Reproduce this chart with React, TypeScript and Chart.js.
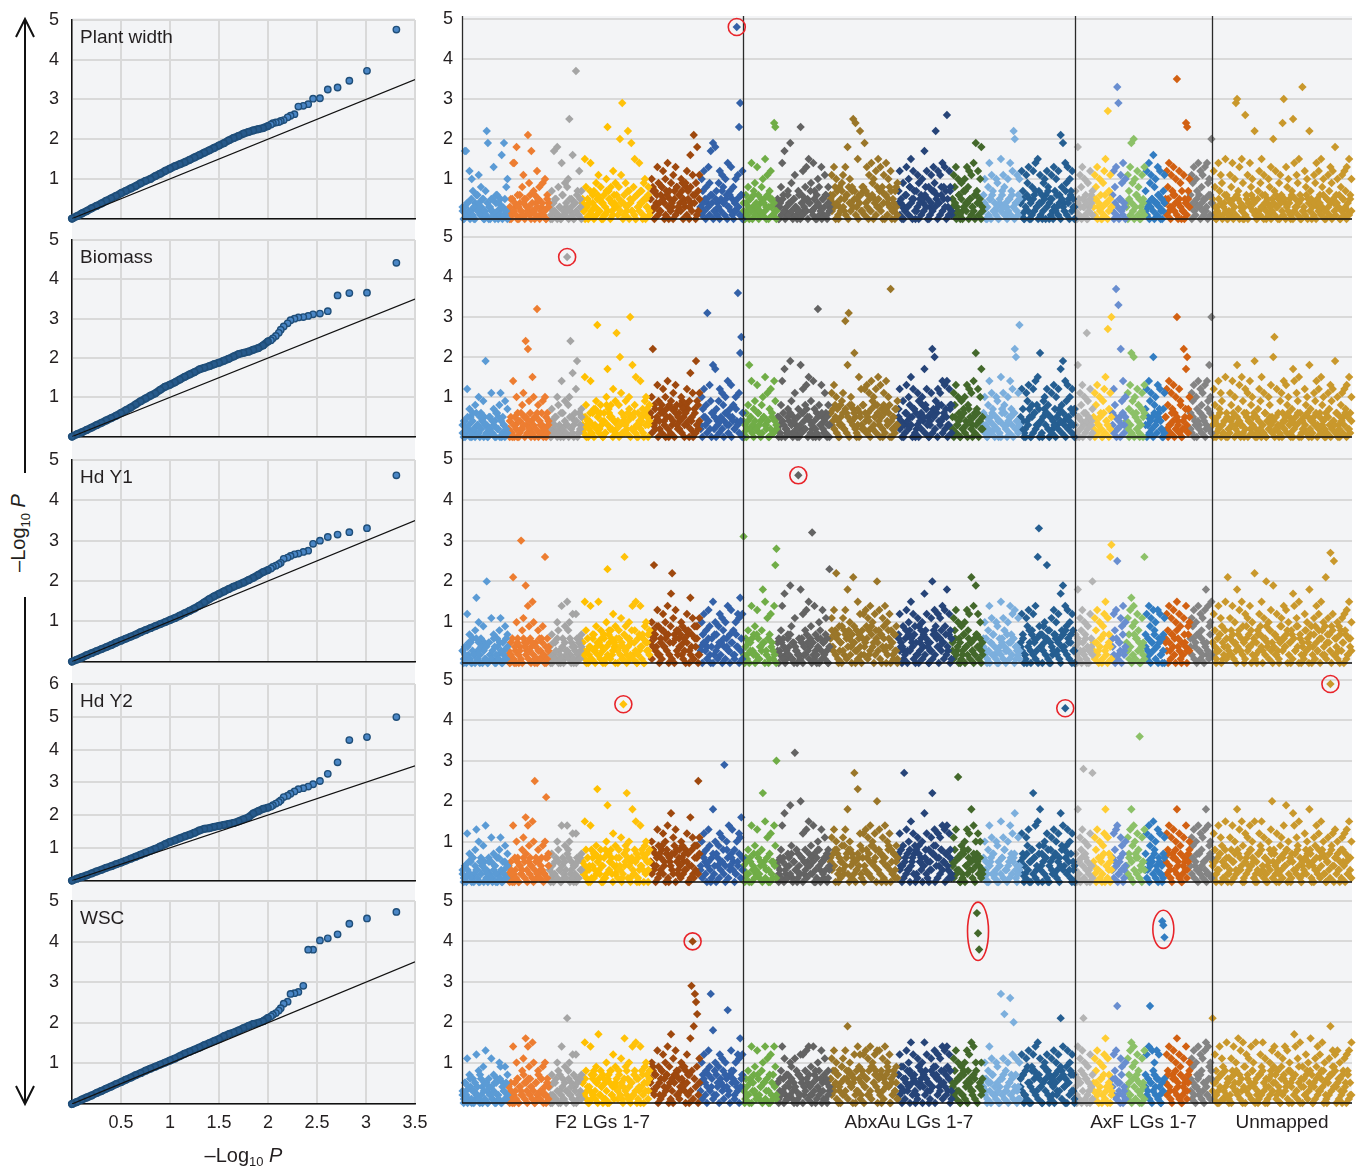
import { useEffect, useRef } from "react";
import { Chart, registerables } from "chart.js";

Chart.register(...registerables);

const FONT = '"Liberation Sans", Arial, Helvetica, sans-serif';
const INK = "#231f20";
Chart.defaults.font.family = FONT;
Chart.defaults.color = INK;

// ---------------- QQ plots ----------------
const traitNames = ["Plant width", "Biomass", "Hd Y1", "Hd Y2", "WSC"];
const qqYMax = [5, 5, 5, 6, 5];

const qqExpected = [
  3.31, 3.01, 2.83, 2.71, 2.61, 2.53, 2.46, 2.41, 2.36, 2.31, 2.27, 2.23, 2.2, 2.16, 2.13, 2.11, 2.08, 2.05, 2.03, 2.0,
  1.95, 1.9, 1.85, 1.8, 1.75, 1.7, 1.65, 1.6, 1.55, 1.5, 1.45, 1.4, 1.35, 1.3, 1.25, 1.2, 1.15, 1.1, 1.05, 1.0,
  0.95, 0.9, 0.85, 0.8, 0.75, 0.7, 0.65, 0.6, 0.55, 0.5, 0.45, 0.4, 0.35, 0.3, 0.25, 0.2, 0.15, 0.1, 0.05, 0.0,
];
const qqPlantWidth = [
  4.76, 3.72, 3.47, 3.3, 3.25, 3.03, 3.02, 2.88, 2.84, 2.82, 2.63, 2.59, 2.55, 2.48, 2.46, 2.43, 2.42, 2.4, 2.37, 2.33,
  2.28, 2.25, 2.22, 2.18, 2.14, 2.08, 2.03, 1.97, 1.9, 1.84, 1.78, 1.72, 1.66, 1.6, 1.54, 1.48, 1.42, 1.37, 1.32, 1.26,
  1.2, 1.13, 1.07, 1.0, 0.95, 0.89, 0.82, 0.76, 0.7, 0.64, 0.57, 0.51, 0.45, 0.38, 0.32, 0.26, 0.19, 0.13, 0.06, 0.0,
];
const qqBiomass = [
  4.42, 3.66, 3.65, 3.59, 3.19, 3.13, 3.11, 3.07, 3.04, 3.03, 3.0, 2.96, 2.88, 2.8, 2.72, 2.64, 2.56, 2.5, 2.45, 2.42,
  2.32, 2.25, 2.21, 2.16, 2.13, 2.1, 2.04, 1.98, 1.93, 1.88, 1.84, 1.79, 1.75, 1.71, 1.64, 1.58, 1.52, 1.45, 1.38, 1.32,
  1.27, 1.19, 1.1, 1.04, 0.97, 0.9, 0.82, 0.74, 0.67, 0.6, 0.53, 0.47, 0.41, 0.35, 0.29, 0.23, 0.17, 0.11, 0.06, 0.0,
];
const qqHdY1 = [
  4.62, 3.31, 3.21, 3.15, 3.09, 3.0, 2.92, 2.75, 2.72, 2.68, 2.66, 2.62, 2.58, 2.55, 2.45, 2.42, 2.38, 2.35, 2.31, 2.27,
  2.22, 2.15, 2.08, 2.02, 1.96, 1.91, 1.86, 1.8, 1.74, 1.68, 1.62, 1.55, 1.47, 1.39, 1.32, 1.26, 1.2, 1.14, 1.08, 1.03,
  0.98, 0.93, 0.88, 0.83, 0.78, 0.73, 0.67, 0.62, 0.57, 0.52, 0.47, 0.41, 0.36, 0.31, 0.26, 0.21, 0.16, 0.1, 0.05, 0.0,
];
const qqHdY2 = [
  4.99, 4.38, 4.29, 3.61, 3.26, 3.04, 2.94, 2.87, 2.82, 2.79, 2.72, 2.65, 2.59, 2.55, 2.45, 2.4, 2.35, 2.3, 2.26, 2.23,
  2.19, 2.12, 2.05, 1.93, 1.87, 1.81, 1.76, 1.73, 1.7, 1.67, 1.64, 1.6, 1.58, 1.53, 1.46, 1.4, 1.35, 1.29, 1.23, 1.18,
  1.11, 1.04, 0.97, 0.91, 0.85, 0.79, 0.73, 0.67, 0.61, 0.55, 0.5, 0.44, 0.39, 0.33, 0.28, 0.22, 0.16, 0.11, 0.06, 0.0,
];
const qqWsc = [
  4.73, 4.57, 4.44, 4.18, 4.08, 4.03, 3.8, 3.8, 2.91, 2.76, 2.73, 2.71, 2.52, 2.47, 2.36, 2.3, 2.24, 2.2, 2.16, 2.12,
  2.04, 2.0, 1.97, 1.92, 1.87, 1.81, 1.76, 1.72, 1.67, 1.6, 1.55, 1.5, 1.45, 1.39, 1.34, 1.29, 1.24, 1.18, 1.12, 1.07,
  1.02, 0.97, 0.92, 0.87, 0.82, 0.76, 0.71, 0.65, 0.6, 0.54, 0.49, 0.43, 0.38, 0.32, 0.27, 0.21, 0.16, 0.11, 0.05, 0.0,
];
const qqObserved = [qqPlantWidth, qqBiomass, qqHdY1, qqHdY2, qqWsc];

// ---------------- Manhattan plots ----------------
// linkage groups: F2 LGs 1-7, AbxAu LGs 1-7, AxF LGs 1-7, Unmapped
const lgLength = [46, 41, 33, 34, 34, 50, 43, 34, 53, 68, 54, 31, 37, 55, 18, 19, 14, 19, 20, 25, 22, 140];
const lgColor = [
  "#5B9BD5", "#ED7D31", "#A5A5A5", "#FFC000", "#FFC20A", "#9E480E", "#3361A8",
  "#70AD47", "#636363", "#9A7629", "#264478", "#43682B", "#7CAFDD", "#255E91",
  "#B4B4B4", "#FFCD33", "#698ED0", "#8CC168", "#327DC2", "#D26012", "#848484",
  "#C9982C",
];
const sectionNames = ["F2 LGs 1-7", "AbxAu LGs 1-7", "AxF LGs 1-7", "Unmapped"];
const sectionFirstGroup = [0, 7, 14, 21];
const sectionLastGroup = [6, 13, 20, 21];

// -log10 P of markers, one character per marker: "0".."9" = 0.0..0.9, "a".."z" = 1.0..3.5, "A".."Z" = 3.6..6.1
const CODE = "0123456789abcdefghijklmnopqrstuvwxyzABCDEFGHIJKLMNOPQRSTUVWXYZ";

const mhPlantWidth = [
  "30hh41c2a70436b281507mj3052d146025g3j18a",
  "2051ee3i60428b513l96h2704c581392a064",
  "4072h51i830e61938ap25g04B61c37",
  "52f8304e167395b284061an7582c49",
  "638kbt4192m75j28f063e4709a5381",
  "5a8374d9268c4a7e0593b7d8264a9538c70g4bl69i2b",
  "3a7c584d9h6j2i749c5b84a6e37d582aMbnt6c",
  "4062805e3792d6148a5f3b07c51on2",
  "5038e6h2174j915b3072n6c28d5f492e706a83d51b6083",
  "6b4d8a70359b2d6i8a47p5o3f6m287j4d6b2e9a5c8f3d70b6e4a8c052739",
  "7c40936d3a8f5c702b956a4h8c503b7d9m6c4b8e5d7q3c81",
  "5b8d3a60927a4d8c5b3e6j7c4ai2",
  "6a308e5b722a904f6b833a5e7cmk4b6a",
  "4c702b9d508c6e3f7b409a6c805b2d7a3c6l8j4e9d5a7c30",
  "70i5b8d3a6093c47",
  "5b8d3a609cf4r7b3",
  "6c8dxt5b9e3a",
  "4b7dj9ka6c803b5d",
  "7c3e9b5g8a4d6c207b",
  "5c8e3b7d6az4c902b5on7a",
  "6b9d4a7e3c8b5d2e9a6k",
  "5c803e7b914f602b8e5atu7d3f90q6b4e8a5m207c9f3b604a8d5k7c309b6ou4d8a507pe3b9f60x2c8a5m704b9e3c6f8a205b7d9c4i6a308b5c7d2f6a",
];
const mhPlantWidthBand = [
  "2031420513062413502140325106241301520",
  "130524103621405231042613502412053",
  "31042501306214205310427150",
  "420351724031625041372504163",
  "315240613704251063274150362",
  "5270361428501637240518362704915382640175",
  "3142053164025130274150362104253160",
  "204135206143025142063531420",
  "304152036142053126041352047215304120536142",
  "526304182735160428371504628173052604135728406153724081",
  "4153026318405273041526308142735041628305172",
  "3140261503724051320641503",
  "240315062413052731402516304215",
  "41503620415273041625037415032614053271406253",
  "204130531402561",
  "315042031640253",
  "20413052140",
  "305142036150241",
  "2140352041630524",
  "41520362410537204153",
  "304215360421530614",
  "4130251403620514203165042031504362410521360425130241635042150324160253140523160425314052413602531405214360251304152",
];
const mhBiomass = [
  "3041c275062813a06495j3052b1740628b053917",
  "2051e03a60428b5o3m964fa05w813692a064",
  "4072151a830e6193J8ao5g04cj1637",
  "52f8304e16739s6284061ah7582c49",
  "q38kb141926au5i28f063e4709a538",
  "5am374d9268c4a7e0593b7d8264a9538c70g4b16j92b",
  "3a7c58v4d96i2h749c5b84a6e37d582a4Ablp6",
  "40628i5e3792d6148a5f3b07c51e92",
  "5038e6h2174j915b3072i6c28d5f492e706w83d51b6083",
  "6b4d8a70359b2t6iv8a47l503f6c28c4d6b2e9a5c8f3d70b6e4a8B052739",
  "7c40936d3a8f5c702b956a4h8c503bm7k96c4b8e5d7e3c81",
  "5b8d3a60927a4d8c5b3e6l7c4ah2",
  "6a308e5b722a904f6b833a5e7c6mk4bs",
  "4c702b9d508c6e3f7l409a6c805b2d7a3c6h8j4e9d5a7c30",
  "70i5b8d3a6q93c47",
  "5b8d3a609cf4r7bu",
  "6c8B2x5m9e3a",
  "4b7dl9ka6c803b5d",
  "7c3e9b5k8a4d6c207b",
  "5c8e3b7d6au4c902m5hk7a",
  "6b9d4a7e3c8b5d2e9iau",
  "5c803e7b914f602b8e5a3i7d3f90c6b4e8a5j207c9f3b604a8d5kp2c309b6e4d8a507he3b9f6042c8a5i704b9e3c6f8a205b7d9c4j6a308b5c7d2f6a",
];
const mhBiomassBand = [
  "1402530142063152403102514306250413021",
  "241035204162305142013526041302513",
  "20413502162041305213640125",
  "315042613072516304183625041",
  "240361531470256130425163704",
  "6138250471630528174063528170634925071384",
  "2053142065031420631504273140",
  "130425104263015324026143",
  "251043025163041250316427051304215036241530",
  "6372514083627150483621705382615407238164052817360425173",
  "5243016425307163042851730461527083416250378",
  "2051340526130742051360425",
  "315024163052410736204153062413",
  "52410437051628304157362051430527416305243167",
  "315024061425031",
  "204135206143025",
  "31502403615",
  "420316052413706",
  "3051420631574201",
  "52031640253180427315",
  "215030426154037261",
  "3041526031405214360251403162504213605142031604253140526130425163140253604125316024153602513406153024316025413605214",
];
const mhHdY1 = [
  "3041c2750628g3a064951k052b1740628b053917",
  "2051l03a604u8b5j3e964fa051813692q064",
  "4072151a830e6193f8a25c04c61637",
  "52f8304e167395f284061an7582c49",
  "6384b14q926a15e28f063e4709a538",
  "5a8o74d9268c4a7e05hmb7d8264a9538c70g4b16992b",
  "3a7c584d906f2a749c5b84a6e37d582a4cbg6c",
  "v062805e3792d6148i5f3b07c51eos",
  "5038e6h2174j915b30K2i6c28d5f49w2e706a83d51b60n",
  "6b4d8m70359b2d6i8a47l503f6c28c4d6b2e9a5c8k3d70b6e4a8c0527391",
  "7c40936d3a8f5c702b956a4h8c503bk7d96c4b8e5d7i3c81",
  "5b8d3a60927a4d8c5l3e6j7c4a32",
  "6a308e5b722a904f6b833a5e7c6d14b3",
  "4c702b9d508c6e3qx7409a6o805b2d7a3c6h8j4e9d5a7c30",
  "70i5b8d3a6093c4k",
  "5b8d3a609cf4b7qt",
  "6c8dp25b9e3a",
  "4b7dg9ea6c803b5q",
  "7c3e9b5d8a4d6c207b",
  "5c8e3b7d6af4c902b5e37a",
  "6b9d4a7e3c8b5di2e9af",
  "5c803e7b914f6l2b8e5a3i7d3f90c6b4e8a5m207c9f3b6k4a8d5j72c309b6e4d8a507he3b9f6042c8a5i704b9e3c6f8a2l5b7r9cp26a308b5c7d2f6a",
];
const mhHdY1Band = [
  "3120451032061524031405213602415302164",
  "302614052310642513052140361520413",
  "42051360214052316041302514",
  "531062417304251637042816350",
  "406251730462815302741605372",
  "7146392051846372915063847216058327194602",
  "4053162407315206143052174031",
  "241536207143502614320",
  "362514036271504326150427316051324061527304",
  "4837261950387146205938174062591837402658174930264851730",
  "6354128073641952038172640531827406351924706",
  "3162405137042615302741605",
  "426130527410362514073152604321",
  "53621048372516094735261804376251047382615083",
  "426130527140362",
  "315204617320541",
  "42061530724",
  "531402716350421",
  "4162053714052630",
  "63051742086315274093",
  "426150731620453172",
  "5241637052814362715048362519374026158374062951830472615936470258163940725183604927153806249175308264197350812643",
];
const mhHdY2 = [
  "3041c2750628d3a06495e3052b1740628b053917",
  "2051e03a60428b5g3e964fap51813692al64",
  "4072151a830e6193e8a25c04c61637",
  "52f8304e16739n6284061aj7582c49",
  "6384b1I49m6a15i28f063e4709a538",
  "5a8374d9268c4a7e05h3b7d8264a9538c70g4b1699pb",
  "3a7c584d906i2a749c5b8t4a6e37d582a4cbg6",
  "4062805e3792d6148m5f3b07c51e9u",
  "5038e6h2174j915w3072k6c28d5f492e706a83d51b6083",
  "6b4d8a70359b2d6i8a475r03n6c28c4d6b2e9a5c8k3d70b6e4a8c0527391",
  "7c409r6d3a8f5c702b956a4h8c503bm7d96c4b8e5d7e3c81",
  "5b8d3q60927a4d8c5i3e6a7c4a32",
  "6a308e5b722a904f6b833a5e7c6h14b3",
  "4c702b9d508m6e3f7i409a6c805b2d7a3c6h8e4H9d5a7c30",
  "70i5b8dsa6093c4r",
  "5b8d3a609ci4b703",
  "6c8de25b903a",
  "4b7di9ea6c8A3b5d",
  "7c3e9b5f8a4d6c207b",
  "5c8e3b7d6ai4c902b5e37a",
  "6b9d4a7e3c8b5di2e9a6",
  "5c803e7b914f602b8e5a3i7d3f90c6b4e8a5f207c9f3b604a8dk572c309b6e4j8a507he3b9f6042c8a5i704b9e3c6f8a205b7N9c4d6a308b5c7d2f6a",
];
const mhHdY2Band = [
  "2140352160431052403126150342061302514",
  "413026150423617052410362514302617",
  "31402615304251760314205163",
  "524163084172536041827356042",
  "416302758140632571048362705",
  "5284061739250816472905381627350418293627",
  "4162053174061352081463025713",
  "3152604137250416302541",
  "426150341627053814260531472650318405263714",
  "5374082615394720816253749160382751946038275160493827156",
  "6384152730462981753046218537904162835074162",
  "4152630718042635170452613",
  "315204627130542618304162573024",
  "52641730582614093752610483627150493862731054",
  "315206417352041",
  "420361527041356",
  "31540263714",
  "426150372614053",
  "3150462713052416",
  "52741063825170463158",
  "426153072415306271",
  "4152637051842630517283640152738461053728416205371840526317480261537284105362748150362814726053184062735184052631",
];
const mhWsc = [
  "2053b1740631c2806495d3042b175062a9053917",
  "2051e03a60428b5g3e964fa051813692a064",
  "4072151a830e6193l8a25c04c61637",
  "52f8304e167395h284061a07582c49",
  "6384b14g926a15e28f063e4709a538",
  "5a8374d9268c4a7e05h3b7d8264a9538c70gtEjrpm2b",
  "3a7c584d9r6i2a749c5b84a6n37d582a4cbg6c",
  "4062805e3792d6148a5e3b07c51e92",
  "5038e6b2174a915b3072c6c28d5e492e706a83d51b6083",
  "6b4d8a70359b2d6j8a475c03e6c28c4d6b2e9a5c8d3d70b6e4a8c0527391",
  "7c40936d3a8f5c702b956a4f8c503b47d96c4b8e5d7e3c81",
  "5b8d3a60927a4d8c5f3e6aLGC4a3",
  "6a308e5b722a904r6bm33a5q7ck4b31a",
  "4c702b9d508c6e3f7b409a6c805b2d7a3c6l8e409d5a7c30",
  "70e5b8dla6093c47",
  "5b8d3a609cg4b703",
  "6c8do25b903a",
  "4b7df9ea6c803b5d",
  "7c3eo5d8a4d6c20JIF",
  "5c8e3b7d6ag4c902b5e37a",
  "6b9d4a7e3c8b5df2e9a6",
  "l5c803e7b914f602b8e5a3g7d3f90c6b4e8a5f207c9f3b604a8d5e72c309b6e4d8a507he3b9f6042c8a5g704b9e3c6f8a205bj7d9c4d6a308b5c7d2f",
];
const mhWscBand = [
  "3152046130524172031506241305216043152",
  "413025160432715062413052716304251",
  "42051630724150362417305261",
  "526140372815062471536082415",
  "417250638140527361408253716",
  "6392740518263749160572813649052738164905",
  "5162073418250631742086153047",
  "3142605317240516302741",
  "516230471526304817250436172053814260371524",
  "6283517409263815740628391570462831957406283157940628351",
  "7293615840726351948072635184907263518429603",
  "4251630728150463271804526",
  "426153072415306271840526137041",
  "63728150493827164059382716405283917460528371",
  "426150371625041",
  "315204627130542",
  "42615307241",
  "315206417352041",
  "4261503726140536",
  "52741063825170463158",
  "315204627130542618",
  "3152604713825160473825160493725184063172850416273951840627351084627315049627138405162738405162739480516273408152",
];
const mhPanels = [mhPlantWidth, mhBiomass, mhHdY1, mhHdY2, mhWsc];
const mhBands = [mhPlantWidthBand, mhBiomassBand, mhHdY1Band, mhHdY2Band, mhWscBand];

// circled markers: [panel, linkage group, minimum -log10 P]
const highlights = [
  [0, 6, 4.5],
  [1, 2, 4.0],
  [2, 8, 4.0],
  [3, 4, 4.0],
  [3, 13, 4.0],
  [3, 21, 4.5],
  [4, 5, 3.9],
  [4, 11, 3.5],
  [4, 18, 3.9],
];

// ---------------- derived ----------------
const decode = (s: string) => s.split("").map((c) => CODE.indexOf(c) / 10);
const lgStart = lgLength.map((_, i) => lgLength.slice(0, i).reduce((a, b) => a + b, 0));
const xTotal = lgLength.reduce((a, b) => a + b, 0);
const sectionStart = sectionFirstGroup.map((g) => lgStart[g]);
const sectionEnd = sectionLastGroup.map((g) => lgStart[g] + lgLength[g]);
const sectionCenter = sectionStart.map((s, i) => (s + sectionEnd[i]) / 2);
const spread = (s: string, g: number) => {
  const ys = decode(s);
  return ys.map((y, i) => ({ x: lgStart[g] + ((i + 0.5) / ys.length) * lgLength[g], y }));
};

// ---------------- layout ----------------
const QQ_AREA = [
  [20, 220],
  [240, 438],
  [460, 663],
  [684, 882],
  [901, 1104],
];
const MH_AREA = [
  [19, 219],
  [237, 437],
  [459, 663],
  [680, 882],
  [901, 1103],
];

function drawLogP(ctx: CanvasRenderingContext2D, cx: number, cy: number, size: number) {
  const parts = [
    { t: "\u2013Log", f: `${size}px ${FONT}`, dy: 0 },
    { t: "10", f: `${Math.round(size * 0.65)}px ${FONT}`, dy: size * 0.32 },
    { t: " ", f: `${size}px ${FONT}`, dy: 0 },
    { t: "P", f: `italic ${size}px ${FONT}`, dy: 0 },
  ];
  ctx.save();
  ctx.fillStyle = INK;
  ctx.textBaseline = "middle";
  ctx.textAlign = "left";
  let total = 0;
  const widths = parts.map((p) => {
    ctx.font = p.f;
    const w = ctx.measureText(p.t).width;
    total += w;
    return w;
  });
  let x = cx - total / 2;
  parts.forEach((p, i) => {
    ctx.font = p.f;
    ctx.fillText(p.t, x, cy + p.dy);
    x += widths[i];
  });
  ctx.restore();
}

function QQPanel({ index }: { index: number }) {
  const ref = useRef<HTMLCanvasElement>(null);
  const [top, bottom] = QQ_AREA[index];
  const last = index === traitNames.length - 1;
  const padTop = 12;
  const axisH = last ? 64 : 0;
  const padBottom = last ? 0 : 4;
  const width = 420;
  const height = bottom - top + padTop + padBottom + axisH;

  useEffect(() => {
    const obs = qqObserved[index];
    const pts = qqExpected.map((x, i) => ({ x, y: obs[i] }));
    const denseStart = qqExpected.findIndex((x) => x <= 2.0);
    const labelPlugin = {
      id: "qqLabel",
      afterDraw(chart: any) {
        const { ctx, chartArea } = chart;
        ctx.save();
        ctx.font = `19px ${FONT}`;
        ctx.fillStyle = INK;
        ctx.textBaseline = "middle";
        ctx.textAlign = "left";
        ctx.fillText(traitNames[index], chartArea.left + 8, chartArea.top + 18);
        if (last) drawLogP(ctx, (chartArea.left + chartArea.right) / 2, chartArea.bottom + 52, 20);
        ctx.restore();
      },
    };
    const chart = new Chart(ref.current!, {
      type: "scatter",
      data: {
        datasets: [
          {
            type: "line",
            data: [
              { x: 0, y: 0 },
              { x: 3.5, y: 3.5 },
            ],
            borderColor: "#111111",
            borderWidth: 1.2,
            pointRadius: 0,
            order: 0,
          } as any,
          {
            data: pts,
            backgroundColor: pts.map((_, i) => (i >= denseStart ? "#275A8C" : "#4A86C5")),
            borderColor: "#1F4E79",
            borderWidth: 1.4,
            pointRadius: 3.2,
            order: 1,
            clip: false,
          } as any,
          {
            type: "line",
            data: pts.slice(denseStart),
            borderColor: "#1F4E79",
            borderWidth: 8,
            borderCapStyle: "round",
            borderJoinStyle: "round",
            pointRadius: 0,
            tension: 0,
            order: 2,
            clip: false,
          } as any,
        ],
      },
      options: {
        responsive: false,
        animation: false,
        events: [],
        layout: { padding: { top: padTop, right: 25, bottom: padBottom, left: 0 } },
        plugins: { legend: { display: false }, tooltip: { enabled: false } },
        scales: {
          x: {
            type: "linear",
            min: 0,
            max: 3.5,
            ticks: {
              stepSize: 0.5,
              display: last,
              autoSkip: false,
              maxRotation: 0,
              padding: 8,
              font: { size: 18 },
              color: INK,
              callback: (v: any) => (Number(v) === 0 ? "" : String(v)),
            },
            grid: { color: "#d9d9d9", lineWidth: 2, drawTicks: false },
            border: { color: "#111111", width: 1.5 },
            afterFit: (s: any) => {
              s.height = axisH;
              s.paddingLeft = 0;
              s.paddingRight = 0;
            },
          },
          y: {
            type: "linear",
            min: 0,
            max: qqYMax[index],
            ticks: {
              stepSize: 1,
              padding: 13,
              font: { size: 18 },
              color: INK,
              callback: (v: any) => (Number(v) === 0 ? "" : String(v)),
            },
            grid: { color: "#d9d9d9", lineWidth: 2, drawTicks: false },
            border: { color: "#111111", width: 1.5 },
            afterFit: (s: any) => {
              s.width = 52;
              s.paddingTop = 0;
              s.paddingBottom = 0;
            },
          },
        },
      } as any,
      plugins: [labelPlugin],
    });
    return () => chart.destroy();
  }, [index]);

  return (
    <canvas
      ref={ref}
      width={width}
      height={height}
      style={{ position: "absolute", left: 20, top: top - padTop, width, height }}
    />
  );
}

function ManhattanPanel({ index }: { index: number }) {
  const ref = useRef<HTMLCanvasElement>(null);
  const [top, bottom] = MH_AREA[index];
  const last = index === mhPanels.length - 1;
  const canvasTop = index === 0 ? 0 : MH_AREA[index - 1][1];
  const padTop = top - canvasTop;
  const axisH = last ? 40 : 0;
  const padBottom = last ? 4 : 6;
  const width = 940;
  const height = bottom - canvasTop + axisH + padBottom;

  useEffect(() => {
    const strings = mhPanels[index];
    const bands = mhBands[index];
    const datasets = strings.map((s, g) => ({
      data: [...spread(s, g), ...spread(bands[g], g)],
      backgroundColor: lgColor[g],
      borderWidth: 0,
      pointRadius: 4.2,
      pointStyle: "rectRot",
      clip: false,
    }));
    const linesPlugin = {
      id: "mhLines",
      afterDatasetsDraw(chart: any) {
        const { ctx, chartArea, scales } = chart;
        const xs = scales.x;
        const yTop = index === 0 ? chartArea.top - 3 : 0;
        ctx.save();
        ctx.strokeStyle = "#2a2a2a";
        ctx.lineWidth = 1.3;
        const vx = [0, ...sectionEnd.slice(0, sectionEnd.length - 1)];
        vx.forEach((v) => {
          const px = Math.round(xs.getPixelForValue(v)) + 0.5;
          ctx.beginPath();
          ctx.moveTo(px, yTop);
          ctx.lineTo(px, chartArea.bottom);
          ctx.stroke();
        });
        ctx.strokeStyle = "#111111";
        ctx.lineWidth = 1.6;
        ctx.beginPath();
        ctx.moveTo(chartArea.left, chartArea.bottom);
        ctx.lineTo(chartArea.right, chartArea.bottom);
        ctx.stroke();
        ctx.strokeStyle = "#E8242A";
        ctx.lineWidth = 1.6;
        highlights
          .filter((h) => h[0] === index)
          .forEach((h) => {
            const g = h[1];
            const meta = chart.getDatasetMeta(g);
            const data = chart.data.datasets[g].data as any[];
            const pts = meta.data.filter((_: any, i: number) => data[i].y >= h[2]);
            if (!pts.length) return;
            const px = pts.map((p: any) => p.x);
            const py = pts.map((p: any) => p.y);
            const cx = px.reduce((a: number, b: number) => a + b, 0) / px.length;
            const y0 = Math.min(...py);
            const y1 = Math.max(...py);
            const cy = (y0 + y1) / 2;
            const rx = pts.length === 1 ? 8.5 : 10.5;
            const ry = pts.length === 1 ? 8.5 : (y1 - y0) / 2 + 11;
            ctx.beginPath();
            ctx.ellipse(cx, cy, rx, ry, 0, 0, Math.PI * 2);
            ctx.stroke();
          });
        ctx.restore();
      },
    };
    const chart = new Chart(ref.current!, {
      type: "scatter",
      data: { datasets: datasets as any },
      options: {
        responsive: false,
        animation: false,
        events: [],
        layout: { padding: { top: padTop, right: 8, bottom: padBottom, left: 0 } },
        plugins: { legend: { display: false }, tooltip: { enabled: false } },
        scales: {
          x: {
            type: "linear",
            min: 0,
            max: xTotal,
            grid: { display: false, drawTicks: false },
            border: { display: false },
            ticks: {
              display: last,
              autoSkip: false,
              maxRotation: 0,
              padding: 8,
              font: { size: 19 },
              color: INK,
              callback: (_v: any, i: number) => sectionNames[i],
            },
            afterBuildTicks: (s: any) => {
              s.ticks = sectionCenter.map((v) => ({ value: v }));
            },
            afterFit: (s: any) => {
              s.height = axisH;
              s.paddingLeft = 0;
              s.paddingRight = 0;
            },
          },
          y: {
            type: "linear",
            min: 0,
            max: 5,
            ticks: {
              stepSize: 0.5,
              padding: 9,
              font: { size: 18 },
              color: INK,
              callback: (v: any) => {
                const n = Number(v);
                return n > 0 && Math.abs(n - Math.round(n)) < 1e-6 ? String(Math.round(n)) : "";
              },
            },
            grid: { color: "#d9d9d9", lineWidth: 2, drawTicks: false },
            border: { display: false },
            afterFit: (s: any) => {
              s.width = 42;
              s.paddingTop = 0;
              s.paddingBottom = 0;
            },
          },
        },
      } as any,
      plugins: [linesPlugin],
    });
    return () => chart.destroy();
  }, [index]);

  return (
    <canvas
      ref={ref}
      width={width}
      height={height}
      style={{ position: "absolute", left: 420, top: canvasTop, width, height }}
    />
  );
}

export default function App() {
  return (
    <div
      style={{
        position: "absolute",
        left: 0,
        top: 0,
        width: 1363,
        height: 1170,
        background: "#ffffff",
        fontFamily: FONT,
        color: INK,
        overflow: "hidden",
      }}
    >
      <div style={{ position: "absolute", left: 72, top: 18, width: 343, height: 1086, background: "#f3f4f6" }} />
      <div style={{ position: "absolute", left: 462, top: 16, width: 890, height: 1087, background: "#f3f4f6" }} />
      <svg style={{ position: "absolute", left: 0, top: 0 }} width={60} height={1120}>
        <line x1={25} y1={19} x2={25} y2={473} stroke="#111" strokeWidth={2} />
        <line x1={25} y1={597} x2={25} y2={1104} stroke="#111" strokeWidth={2} />
        <polyline points="16,37 25,19 34,37" fill="none" stroke="#111" strokeWidth={2} />
        <polyline points="16,1086 25,1104 34,1086" fill="none" stroke="#111" strokeWidth={2} />
      </svg>
      <div
        style={{
          position: "absolute",
          left: 22,
          top: 533,
          transform: "translate(-50%, -50%) rotate(-90deg)",
          whiteSpace: "nowrap",
          fontSize: 20,
          lineHeight: "24px",
        }}
      >
        {"\u2013Log"}
        <sub style={{ fontSize: 13 }}>10</sub> <i>P</i>
      </div>
      {traitNames.map((_, i) => (
        <QQPanel key={"qq" + i} index={i} />
      ))}
      {mhPanels.map((_, i) => (
        <ManhattanPanel key={"mh" + i} index={i} />
      ))}
    </div>
  );
}
